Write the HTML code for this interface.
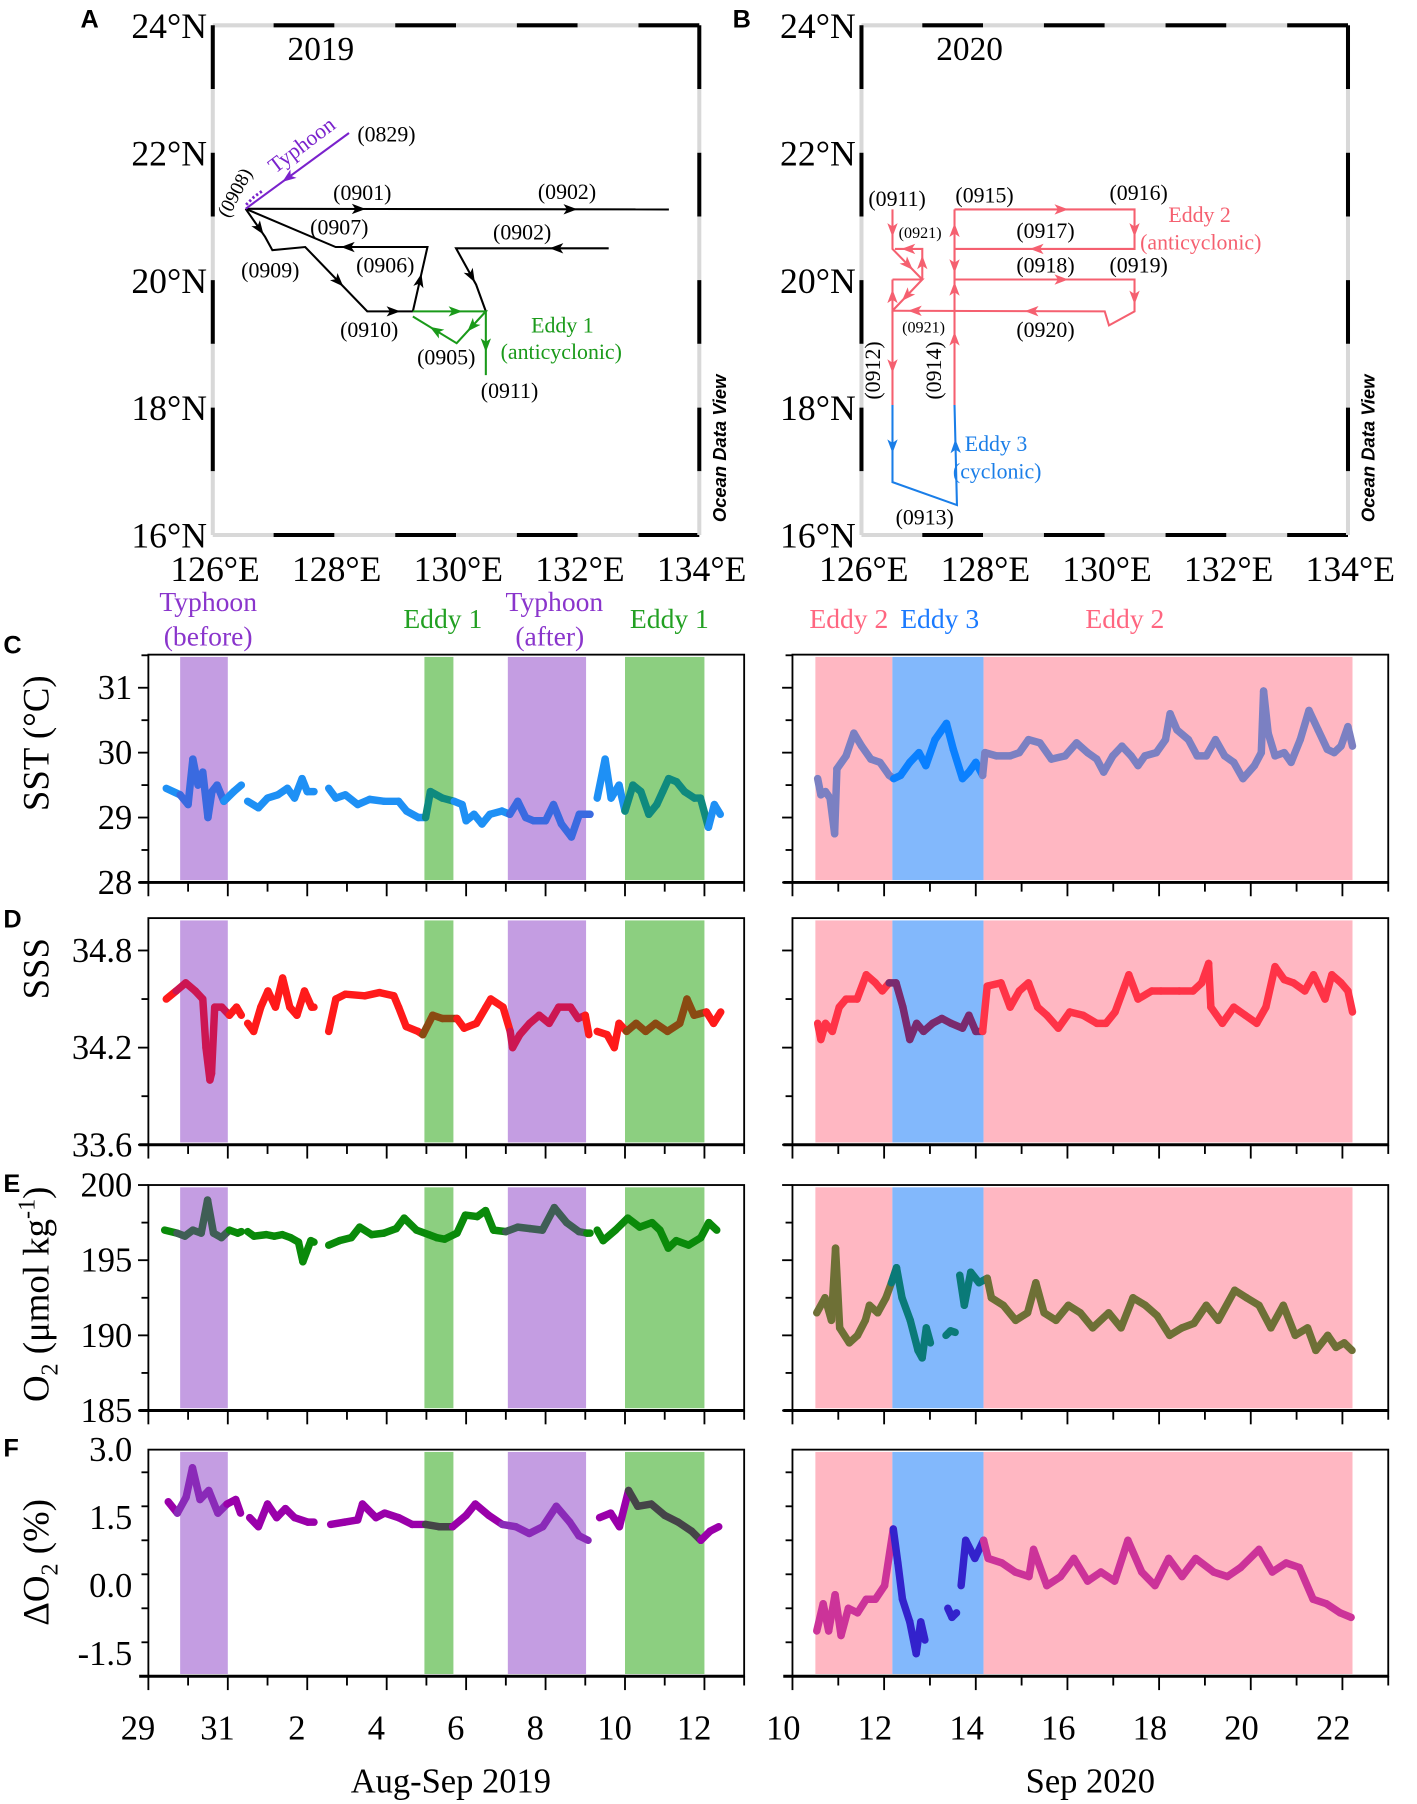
<!DOCTYPE html>
<html><head><meta charset="utf-8">
<style>
html,body{margin:0;padding:0;background:#fff;}
svg{display:block;font-family:"Liberation Serif",serif;}
.sans{font-family:"Liberation Sans",sans-serif;}
</style></head>
<body>
<svg id="fig" width="1417" height="1804" viewBox="0 0 1232 1568" preserveAspectRatio="none" xmlns="http://www.w3.org/2000/svg">
<g id="maps"></g>
<g id="series"></g>
</svg>
<script>
// ---------------- data: time series ----------------
const sstLDays=[29.45,29.8,30.0,30.12,30.25,30.37,30.5,30.6,30.73,30.9,31.15,31.34,31.42,31.5,31.77,32.0,32.26,32.5,32.68,32.87,33.0,33.17,33.35,33.54,33.72,33.96,34.27,34.57,34.94,35.3,35.5,35.8,35.98,36.1,36.4,36.7,36.9,37.0,37.2,37.4,37.6,37.9,38.1,38.3,38.5,38.7,39.0,39.2,39.4,39.65,39.85,40.12,40.2,40.3,40.5,40.65,40.85,41.0,41.2,41.4,41.6,41.8,41.95,42.1,42.3,42.5,42.75,42.9,43.1,43.25,43.4];
const sstLVals=[29.45,29.35,29.2,29.9,29.5,29.7,29.0,29.4,29.5,29.25,29.4,29.5,null,29.25,29.15,29.3,29.35,29.45,29.3,29.6,29.4,29.4,null,29.45,29.3,29.35,29.2,29.28,29.25,29.25,29.1,29.0,29.0,29.4,29.3,29.25,29.2,28.95,29.05,28.9,29.05,29.1,29.05,29.25,29.0,28.95,28.95,29.2,28.9,28.7,29.05,29.05,null,29.3,29.9,29.3,29.5,29.1,29.5,29.4,29.05,29.2,29.4,29.6,29.55,29.4,29.3,29.3,28.85,29.2,29.05];
const sstRDays=[10.55,10.62,10.72,10.82,10.92,10.97,11.17,11.34,11.51,11.71,11.91,12.11,12.21,12.36,12.56,12.76,12.91,13.11,13.36,13.51,13.71,13.85,14.0,14.15,14.2,14.45,14.75,14.95,15.15,15.4,15.65,15.95,16.2,16.44,16.64,16.79,16.99,17.19,17.39,17.54,17.69,17.94,18.14,18.24,18.39,18.64,18.83,19.03,19.23,19.43,19.63,19.83,20.08,20.23,20.28,20.38,20.53,20.73,20.88,21.08,21.27,21.47,21.67,21.82,21.97,22.12,22.22];
const sstRVals=[29.6,29.35,29.4,29.3,28.75,29.75,29.95,30.3,30.1,29.9,29.85,29.65,29.6,29.65,29.85,30.0,29.8,30.2,30.45,30.05,29.6,29.7,29.85,29.65,30.0,29.95,29.95,30.0,30.2,30.15,29.9,29.95,30.15,30.0,29.9,29.7,29.95,30.1,29.95,29.8,29.95,30.0,30.2,30.6,30.35,30.2,29.95,29.95,30.2,29.95,29.85,29.6,29.8,30.0,30.95,30.3,29.95,30.0,29.85,30.2,30.65,30.35,30.05,30.0,30.1,30.4,30.1];
const sssLDays=[29.45,29.7,29.94,30.18,30.37,30.45,30.55,30.59,30.67,30.85,31.04,31.22,31.34,31.42,31.5,31.65,31.83,32.01,32.2,32.38,32.56,32.74,32.93,33.11,33.17,33.35,33.54,33.72,33.96,34.45,34.82,35.18,35.3,35.49,35.79,35.91,36.16,36.4,36.77,36.95,37.26,37.5,37.62,37.93,38.11,38.17,38.35,38.6,38.84,39.09,39.33,39.63,39.82,40.0,40.09,40.2,40.3,40.55,40.73,40.85,41.04,41.28,41.52,41.77,42.07,42.38,42.56,42.74,43.05,43.23,43.41];
const sssLVals=[34.5,34.55,34.6,34.55,34.5,34.2,34.0,34.04,34.45,34.45,34.4,34.45,34.4,null,34.35,34.3,34.45,34.55,34.45,34.63,34.45,34.4,34.55,34.45,34.45,null,34.3,34.5,34.53,34.52,34.54,34.52,34.45,34.33,34.3,34.28,34.4,34.38,34.38,34.32,34.35,34.45,34.5,34.45,34.3,34.2,34.28,34.35,34.4,34.35,34.45,34.45,34.38,34.4,34.28,null,34.3,34.28,34.2,34.35,34.3,34.35,34.3,34.35,34.3,34.35,34.5,34.4,34.42,34.35,34.42];
const sssRDays=[10.55,10.62,10.72,10.87,11.02,11.17,11.41,11.61,11.81,11.96,12.11,12.26,12.41,12.56,12.71,12.86,13.06,13.26,13.46,13.71,13.85,14.0,14.15,14.25,14.55,14.75,14.95,15.15,15.35,15.55,15.8,16.05,16.34,16.64,16.84,17.04,17.34,17.54,17.84,18.04,18.44,18.74,18.93,19.08,19.13,19.38,19.63,19.88,20.13,20.33,20.53,20.73,20.93,21.18,21.37,21.62,21.77,21.97,22.12,22.22];
const sssRVals=[34.35,34.25,34.35,34.3,34.45,34.5,34.5,34.65,34.6,34.55,34.6,34.6,34.45,34.25,34.35,34.3,34.35,34.38,34.35,34.32,34.4,34.3,34.3,34.58,34.6,34.45,34.55,34.6,34.45,34.4,34.32,34.42,34.4,34.35,34.35,34.42,34.65,34.5,34.55,34.55,34.55,34.55,34.6,34.72,34.45,34.35,34.45,34.4,34.35,34.45,34.7,34.62,34.6,34.55,34.65,34.5,34.65,34.6,34.55,34.42];
const o2LDays=[29.41,29.72,29.92,30.12,30.33,30.49,30.64,30.84,31.04,31.25,31.34,31.42,31.5,31.66,31.97,32.17,32.37,32.58,32.78,32.89,33.09,33.17,33.35,33.54,33.81,34.11,34.32,34.62,34.93,35.24,35.44,35.75,36.06,36.26,36.46,36.77,36.98,37.28,37.49,37.69,38.0,38.3,38.61,38.92,39.22,39.53,39.84,40.04,40.12,40.2,40.3,40.45,40.76,41.07,41.37,41.68,41.88,42.09,42.29,42.6,42.91,43.11,43.31];
const o2LVals=[197.0,196.8,196.6,197.0,196.8,199.0,196.8,196.5,197.0,196.8,196.9,null,196.9,196.6,196.7,196.6,196.7,196.5,196.2,194.9,196.3,196.2,null,196.0,196.3,196.5,197.2,196.7,196.8,197.1,197.8,197.0,196.7,196.5,196.4,196.8,198.0,197.9,198.3,197.0,196.9,197.2,197.1,197.0,198.5,197.5,196.9,196.8,196.8,null,197.0,196.3,197.0,197.8,197.2,197.5,197.0,195.8,196.3,196.0,196.5,197.5,197.0];
const o2RDays=[10.53,10.71,10.85,10.94,11.03,11.24,11.42,11.59,11.68,11.86,12.04,12.16,12.27,12.39,12.57,12.74,12.83,12.92,13.01,13.2,13.35,13.45,13.55,13.6,13.65,13.75,13.89,14.07,14.25,14.34,14.6,14.87,15.13,15.31,15.49,15.75,16.02,16.28,16.55,16.9,17.17,17.43,17.7,17.96,18.23,18.5,18.76,19.03,19.29,19.65,19.91,20.18,20.44,20.71,20.97,21.24,21.42,21.68,21.86,22.04,22.21];
const o2RVals=[191.5,192.5,191.0,195.8,190.5,189.5,190.0,191.0,192.0,191.5,192.5,193.5,194.5,192.5,191.0,189.0,188.5,190.5,189.5,null,190.0,190.3,190.2,null,194.0,192.0,194.2,193.5,193.8,192.5,192.0,191.0,191.5,193.5,191.5,191.0,192.0,191.5,190.5,191.5,190.5,192.5,192.0,191.3,190.0,190.5,190.8,192.0,191.0,193.0,192.5,192.0,190.5,192.0,190.0,190.5,189.0,190.0,189.2,189.5,189.0];
const dLDays=[29.5,29.73,29.95,30.11,30.3,30.52,30.75,30.98,31.2,31.32,31.42,31.55,31.77,32.0,32.23,32.45,32.68,33.02,33.17,33.35,33.59,33.93,34.27,34.39,34.73,34.95,35.3,35.64,35.98,36.32,36.66,37.0,37.23,37.57,37.91,38.25,38.59,38.93,39.27,39.61,39.84,40.07,40.2,40.36,40.64,40.86,41.09,41.32,41.66,42.0,42.34,42.68,42.91,43.14,43.36];
const dLVals=[1.85,1.6,1.95,2.6,1.9,2.1,1.6,1.8,1.9,1.6,null,1.5,1.3,1.8,1.5,1.7,1.5,1.4,1.4,null,1.35,1.4,1.45,1.8,1.5,1.6,1.5,1.35,1.35,1.3,1.3,1.55,1.8,1.55,1.35,1.3,1.15,1.3,1.75,1.4,1.1,1.0,null,1.5,1.6,1.3,2.1,1.75,1.8,1.55,1.4,1.2,1.0,1.2,1.3];
const dRDays=[10.53,10.67,10.79,10.93,11.06,11.22,11.42,11.61,11.81,12.01,12.2,12.3,12.4,12.56,12.7,12.8,12.89,13.1,13.39,13.48,13.58,13.63,13.68,13.78,13.98,14.17,14.27,14.57,14.86,15.16,15.26,15.55,15.85,16.14,16.44,16.73,17.03,17.32,17.62,17.91,18.21,18.5,18.8,19.19,19.49,19.78,20.18,20.47,20.77,21.06,21.36,21.65,21.95,22.19];
const dRVals=[-1.0,-0.4,-1.0,-0.2,-1.1,-0.5,-0.6,-0.3,-0.3,0.0,1.25,0.5,-0.3,-0.8,-1.5,-0.8,-1.2,null,-0.5,-0.7,-0.6,null,0.0,1.0,0.6,1.0,0.6,0.5,0.3,0.2,0.8,0.0,0.2,0.6,0.1,0.3,0.1,1.0,0.3,0.0,0.6,0.2,0.6,0.3,0.2,0.4,0.8,0.3,0.5,0.4,-0.3,-0.4,-0.6,-0.7];
// bands
const leftBandStart=[29.8,35.95,38.05,41.0];
const leftBandEnd=[31.0,36.68,40.02,43.0];
const leftBandType=['typhoon','eddy1','typhoon','eddy1'];
const rightBandStart=[10.5,12.18,14.17];
const rightBandEnd=[12.18,14.17,22.22];
const rightBandType=['eddy2','eddy3','eddy2'];
const leftTickLabels=['29','31','2','4','6','8','10','12'];
const rightTickLabels=['10','12','14','16','18','20','22'];
const sstTicks=[28,29,30,31], sssTicks=[33.6,34.2,34.8], o2Ticks=[185,190,195,200], dTicks=[-1.5,0.0,1.5,3.0];
const sstTickText=['28','29','30','31'], sssTickText=['33.6','34.2','34.8'], o2TickText=['185','190','195','200'], dTickText=['-1.5','0.0','1.5','3.0'];

// ---------------- data: maps (lon, lat) ----------------
const mapALines=[
 {c:'#000',p:[[126.54,21.12],[133.5,21.11]],a:[[0,0.27],[0,0.77]]},
 {c:'#000',p:[[126.54,21.12],[126.86,20.68],[126.98,20.47],[127.52,20.52],[128.54,19.51],[129.29,19.51]],a:[[0,0.75],[3,0.55],[4,0.6]]},
 {c:'#000',p:[[129.29,19.51],[129.53,20.52],[128.02,20.52],[126.54,21.12]],a:[[0,0.5],[1,0.88]]},
 {c:'#000',p:[[132.51,20.5],[130.0,20.5],[130.33,19.93],[130.49,19.51]],a:[[0,0.35],[1,0.8]]},
 {c:'#1a9a1a',p:[[129.29,19.51],[130.49,19.51],[130.01,19.01],[129.29,19.43]],a:[[0,0.6],[1,0.5],[2,0.5]]},
 {c:'#1a9a1a',p:[[130.49,19.51],[130.49,18.51]],a:[[0,0.55]]},
 {c:'#7a22cc',p:[[128.24,22.31],[126.54,21.12]],a:[[0,0.6]]}
];
const mapBLines=[
 {c:'#f56070',p:[[126.51,21.11],[126.51,20.49],[127.0,20.01]],a:[[0,0.55],[1,0.55]]},
 {c:'#f56070',p:[[127.0,20.01],[127.0,20.49],[126.55,20.49]],a:[[0,0.6],[1,0.55]]},
 {c:'#f56070',p:[[126.51,20.01],[127.0,20.01],[126.51,19.52],[126.51,20.01]],a:[[1,0.55],[2,0.5]]},
 {c:'#f56070',p:[[126.51,19.52],[126.51,18.04]],a:[[0,0.6]]},
 {c:'#1a7ee8',p:[[126.51,18.04],[126.51,16.83],[127.57,16.47],[127.53,18.04]],a:[[0,0.55],[2,0.6]]},
 {c:'#f56070',p:[[127.53,18.04],[127.53,21.11]],a:[[0,0.345],[0,0.6],[0,0.9]]},
 {c:'#f56070',p:[[127.53,20.49],[127.53,20.01]],a:[[0,0.6]]},
 {c:'#f56070',p:[[127.53,21.11],[130.49,21.11],[130.49,20.49],[127.53,20.49]],a:[[0,0.6],[1,0.55],[2,0.55]]},
 {c:'#f56070',p:[[127.53,20.01],[130.49,20.01],[130.49,19.51],[130.07,19.29],[130.0,19.51],[126.51,19.52]],a:[[0,0.6],[1,0.6],[4,0.35],[4,0.9]]}
];
const latTicks=[16,18,20,22,24], lonTicks=[126,128,130,132,134];

// ---------------- helpers ----------------
const NS='http://www.w3.org/2000/svg';
function mk(tag,attrs,parent){const e=document.createElementNS(NS,tag);for(const k in attrs)e.setAttribute(k,attrs[k]);parent.appendChild(e);return e;}
function txt(s,x,y,size,fill,parent,anchor,extra){const t=mk('text',{x:x,y:y,'font-size':size,fill:fill,'text-anchor':anchor||'middle'},parent);if(extra)for(const k in extra)t.setAttribute(k,extra[k]);t.textContent=s;return t;}
const maps=document.getElementById('maps');
const series=document.getElementById('series');

// ---------------- maps ----------------
function drawMap(g,x0,x1,y0,y1,lines,year){
  const X=lon=>x0+(lon-126)*(x1-x0)/8, Y=lat=>y0+(24-lat)*(y1-y0)/8;
  for(let i=0;i<8;i++){
    const col=(i%2===1)?'#000':'#d8d8d8';
    mk('line',{x1:X(126+i),x2:X(127+i),y1:y0,y2:y0,stroke:col,'stroke-width':3.5},g);
    mk('line',{x1:X(126+i),x2:X(127+i),y1:y1,y2:y1,stroke:col,'stroke-width':3.5},g);
    const colv=(i%2===0)?'#000':'#d8d8d8';
    mk('line',{x1:x0,x2:x0,y1:Y(24-i),y2:Y(23-i),stroke:colv,'stroke-width':3.5},g);
    mk('line',{x1:x1,x2:x1,y1:Y(24-i),y2:Y(23-i),stroke:colv,'stroke-width':3.5},g);
  }
  latTicks.forEach(v=>{const t=txt(v+'°N',x0-5,Y(v)+11,31,'#000',g,'end');
    
    });
  lonTicks.forEach(v=>{const t=txt(v+'°E',X(v)+2,y1+40,31,'#000',g,'middle');
    
    });
  lines.forEach((L,li)=>{
    const pl=mk('polyline',{points:L.p.map(q=>X(q[0])+','+Y(q[1])).join(' '),fill:'none',stroke:L.c,'stroke-width':1.8},g);
    
    
    L.a.forEach(a=>{
      const A=L.p[a[0]],B=L.p[a[0]+1];
      const ax=X(A[0]),ay=Y(A[1]),bx=X(B[0]),by=Y(B[1]);
      const px=ax+(bx-ax)*a[1],py=ay+(by-ay)*a[1];
      const ang=Math.atan2(by-ay,bx-ax)*180/Math.PI;
      const h=mk('polygon',{points:'5,0 -7,-4.5 -4,0 -7,4.5',fill:L.c,transform:'translate('+px+','+py+') rotate('+ang+')'},g);
      
      
    });
  });
  const odv=txt('Ocean Data View',0,0,16,'#000',g,'middle',{transform:'translate('+(x1+23)+','+(y0+(y1-y0)*0.83)+') rotate(-90)','font-weight':'bold','font-style':'italic',class:'sans'});
  
  
  const yr=txt(year,x0+94,y0+30,29,'#000',g,'middle');
  
  
  return {X:X,Y:Y};
}
const gA=mk('g',{},maps);


drawMap(gA,185,608,22,465,mapALines,'2019');
mk('polyline',{points:'214,178 221,171 228,166',fill:'none',stroke:'#7a22cc','stroke-width':2.5,'stroke-dasharray':'2,2'},gA);
const mapALabels=[['(0829)',336,123],['(0901)',315,174],['(0902)',493,173],['(0907)',295,204],['(0902)',454,208],['(0909)',235,241],['(0906)',335,237],['(0910)',321,293],['(0905)',388,317],['(0911)',443,346]];
mapALabels.forEach(l=>{const t=txt(l[0],l[1],l[2],19,'#000',gA);
  
  });
let t;
t=txt('Typhoon',0,0,19,'#7a22cc',gA,'middle',{transform:'translate(266,131) rotate(-37)'});


t=txt('(0908)',0,0,17,'#000',gA,'middle',{transform:'translate(209,170) rotate(-62)'});


t=txt('Eddy 1',489,289,19,'#1a9a1a',gA);


t=txt('(anticyclonic)',488,312,19,'#1a9a1a',gA);



const gB=mk('g',{},maps);


drawMap(gB,749,1172,22,465,mapBLines,'2020');
const mapBLabels=[['(0911)',780,179,19],['(0915)',856,176,19],['(0916)',990,174,19],['(0917)',909,207,19],['(0921)',800,207,14],['(0918)',909,237,19],['(0919)',990,237,19],['(0921)',803,289,14],['(0920)',909,293,19],['(0913)',804,456,19]];
mapBLabels.forEach(l=>{const t=txt(l[0],l[1],l[2],l[3],'#000',gB);
  
  });
t=txt('(0912)',0,0,19,'#000',gB,'middle',{transform:'translate(765,322) rotate(-90)'});


t=txt('(0914)',0,0,19,'#000',gB,'middle',{transform:'translate(818,322) rotate(-90)'});


t=txt('Eddy 2',1043,193,19,'#f56070',gB);


t=txt('(anticyclonic)',1044,217,19,'#f56070',gB);


t=txt('Eddy 3',866,392,19,'#1a7ee8',gB);


t=txt('(cyclonic)',867,416,19,'#1a7ee8',gB);



[['A',70,24],['B',637,24],['C',3,568],['D',3,806],['E',3,1036],['F',3,1266]].forEach(p=>{
  const e=txt(p[0],p[1],p[2],22,'#000',maps,'start',{'font-weight':'bold',class:'sans'});
  
  
});

// ---------------- time series ----------------
const LX0=129,LX1=647,RX0=689,RX1=1207;
const xL=d=>LX0+(d-29)*(LX1-LX0)/15;
const xR=d=>RX0+(d-10)*(RX1-RX0)/13;
const bandFill={typhoon:'#c49de2',eddy1:'#8ccf80',eddy2:'#ffb7c2',eddy3:'#82b8fc'};
function bandOf(d,starts,ends,types){for(let i=0;i<starts.length;i++)if(d>=starts[i]&&d<=ends[i])return types[i];return 'none';}
const panels=[
 {key:'sst',y0:569,y1:767,vmin:28,vmax:31.51,minor:0.5,ticks:sstTicks,tt:sstTickText,ld:sstLDays,lv:sstLVals,rd:sstRDays,rv:sstRVals,
  lc:{none:'#1e90f5',typhoon:'#3a6ae0',eddy1:'#0f8a7e'},rc:{eddy2:'#7b80c2',eddy3:'#0a80ff',none:'#7b80c2'}},
 {key:'sss',y0:798,y1:995,vmin:33.6,vmax:35.0,minor:0.3,ticks:sssTicks,tt:sssTickText,ld:sssLDays,lv:sssLVals,rd:sssRDays,rv:sssRVals,
  lc:{none:'#ff1a1a',typhoon:'#cc1652',eddy1:'#8a4a12'},rc:{eddy2:'#ff3347',eddy3:'#7a2a6e',none:'#ff3347'}},
 {key:'o2',y0:1030,y1:1226,vmin:185,vmax:200,minor:2.5,ticks:o2Ticks,tt:o2TickText,ld:o2LDays,lv:o2LVals,rd:o2RDays,rv:o2RVals,
  lc:{none:'#0a8a0a',typhoon:'#3f5e55',eddy1:'#0a8a0a'},rc:{eddy2:'#6e7036',eddy3:'#0a7a78',none:'#6e7036'}},
 {key:'do2',y0:1260,y1:1457,vmin:-2.0,vmax:3.0,minor:0.75,ticks:dTicks,tt:dTickText,ld:dLDays,lv:dLVals,rd:dRDays,rv:dRVals,
  lc:{none:'#9a00aa',typhoon:'#8a2ab8',eddy1:'#454448'},rc:{eddy2:'#cc3399',eddy3:'#3322cc',none:'#cc3399'}}
];
function drawSide(g,P,x0,x1,xf,dayMin,dayMax,bs,be,bt,days,vals,cols,isLeft){
  const yf=v=>P.y1-(v-P.vmin)*(P.y1-P.y0)/(P.vmax-P.vmin);
  for(let i=0;i<bs.length;i++){
    const r=mk('rect',{x:xf(bs[i]),y:P.y0+2,width:xf(be[i])-xf(bs[i]),height:P.y1-P.y0-4,fill:bandFill[bt[i]]},g);
    
    
  }
  for(let i=0;i<days.length-1;i++){
    if(vals[i]===null||vals[i+1]===null)continue;
    const b=bandOf((days[i]+days[i+1])/2,bs,be,bt);
    const s=mk('line',{x1:xf(days[i]),y1:yf(vals[i]),x2:xf(days[i+1]),y2:yf(vals[i+1]),stroke:cols[b],'stroke-width':6.5,'stroke-linecap':'round'},g);
    
    
  }
  mk('rect',{x:x0,y:P.y0,width:x1-x0,height:P.y1-P.y0,fill:'none',stroke:'#000','stroke-width':1.6},g);
  mk('line',{x1:x0-8,x2:x1,y1:P.y1,y2:P.y1,stroke:'#000','stroke-width':2.6},g);
  for(let v=P.vmin;v<=P.vmax+1e-6;v+=P.minor){
    const isMaj=P.ticks.some(t=>Math.abs(t-v)<1e-6);
    mk('line',{x1:x0,x2:x0-(isMaj?9:6),y1:yf(v),y2:yf(v),stroke:'#000','stroke-width':1.6},g);
  }
  if(isLeft){
    P.ticks.forEach((v,i)=>{const e=txt(P.tt[i],x0-14,yf(v)+10,30,'#000',g,'end');
      
      });
  }
  for(let d=dayMin;d<=dayMax;d++){
    const maj=((d-dayMin)%2===0);
    mk('line',{x1:xf(d),x2:xf(d),y1:P.y1,y2:P.y1+(maj?12:8),stroke:'#000','stroke-width':1.6},g);
  }
}
panels.forEach(P=>{
  const g=mk('g',{},series);
  
  
  drawSide(g,P,LX0,LX1,xL,29,44,leftBandStart,leftBandEnd,leftBandType,P.ld,P.lv,P.lc,true);
  drawSide(g,P,RX0,RX1,xR,10,23,rightBandStart,rightBandEnd,rightBandType,P.rd,P.rv,P.rc,false);
});
leftTickLabels.forEach((s,i)=>{const e=txt(s,xL(29+2*i)-9,1512,30,'#000',series);
  
  });
rightTickLabels.forEach((s,i)=>{const e=txt(s,xR(10+2*i)-8,1512,30,'#000',series);
  
  });
t=txt('Aug-Sep 2019',392,1558,30,'#000',series);


t=txt('Sep 2020',948,1558,30,'#000',series);


t=txt('SST (°C)',0,0,32,'#000',series,'middle',{transform:'translate(42,646) rotate(-90)'});


t=txt('SSS',0,0,32,'#000',series,'middle',{transform:'translate(42,842) rotate(-90)'});


t=mk('text',{'font-size':32,'text-anchor':'middle',transform:'translate(42,1125) rotate(-90)'},series);


t.innerHTML='O<tspan font-size="21" dy="8">2</tspan><tspan dy="-8"> (μmol kg</tspan><tspan font-size="21" dy="-12">-1</tspan><tspan dy="12">)</tspan>';
t=mk('text',{'font-size':32,'text-anchor':'middle',transform:'translate(42,1358) rotate(-90)'},series);


t.innerHTML='ΔO<tspan font-size="21" dy="8">2</tspan><tspan dy="-8"> (%)</tspan>';
const bandLabels=[['Typhoon',181,531,'#8a35cc'],['(before)',181,561,'#8a35cc'],['Eddy 1',385,546,'#22a022'],['Typhoon',482,531,'#8a35cc'],['(after)',478,561,'#8a35cc'],['Eddy 1',582,546,'#22a022'],['Eddy 2',738,546,'#ff6680'],['Eddy 3',817,546,'#1a7aff'],['Eddy 2',978,546,'#ff6680']];
bandLabels.forEach(l=>{const e=txt(l[0],l[1],l[2],24,l[3],series);
  
  });
</script>
</body></html>
